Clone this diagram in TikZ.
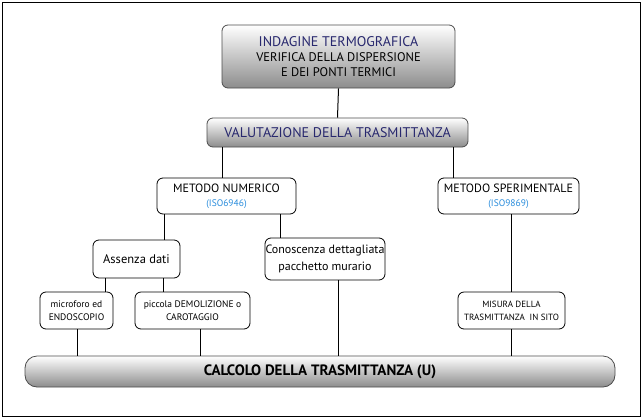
\documentclass[tikz,border=0pt]{standalone}
\usepackage{fontspec}
\setmainfont{PT Sans}
\begin{document}
\begin{tikzpicture}[x=1pt,y=-1pt,
  gbox/.style={draw=black!70,line width=0.8pt,rounded corners=6pt,top color=white,bottom color=black!45,align=center,inner sep=0pt},
  wbox/.style={draw=black,line width=0.8pt,rounded corners=6pt,fill=white,align=center,inner sep=0pt},
  conn/.style={line width=1pt}]
\definecolor{navy}{RGB}{40,40,110}
\definecolor{iso}{RGB}{40,140,220}
\useasboundingbox (0,0) rectangle (642,418);
\draw[line width=0.8pt] (2,2) rectangle (640,416);
\node[gbox,minimum width=233pt,minimum height=63pt,font=\fontsize{12.5}{15}\selectfont] (top) at (338.5,56.5) {{\fontsize{14}{15}\selectfont\color{navy}INDAGINE TERMOGRAFICA}\\VERIFICA DELLA DISPERSIONE\\E DEI PONTI TERMICI};
\node[gbox,minimum width=261pt,minimum height=29pt,font=\fontsize{14}{16}\selectfont,text=navy] (val) at (337.5,132.5) {VALUTAZIONE DELLA TRASMITTANZA};
\node[wbox,minimum width=139pt,minimum height=36pt,font=\fontsize{12}{14}\selectfont] (mn) at (226.5,196) {METODO NUMERICO\\{\fontsize{9.5}{12}\selectfont\color{iso}(ISO6946)}};
\node[wbox,minimum width=141pt,minimum height=36pt,font=\fontsize{12}{14}\selectfont] (ms) at (508.5,196) {METODO SPERIMENTALE\\{\fontsize{9.5}{12}\selectfont\color{iso}(ISO9869)}};
\node[wbox,minimum width=87pt,minimum height=38pt,font=\fontsize{12.5}{15}\selectfont] (ad) at (136.5,259) {Assenza dati};
\node[wbox,minimum width=120pt,minimum height=42pt,font=\fontsize{12}{17}\selectfont] (cd) at (325,259) {Conoscenza dettagliata\\pacchetto murario};
\node[wbox,minimum width=73pt,minimum height=37pt,font=\fontsize{9.5}{13}\selectfont] (mf) at (76.5,310.5) {microforo ed\\ENDOSCOPIO};
\node[wbox,minimum width=115pt,minimum height=37pt,font=\fontsize{9.5}{13}\selectfont] (pd) at (192.5,310.5) {piccola DEMOLIZIONE o\\CAROTAGGIO};
\node[wbox,minimum width=107pt,minimum height=37pt,font=\fontsize{9}{13}\selectfont] (mi) at (511.5,310.5) {MISURA DELLA\\TRASMITTANZA\ \ IN SITO};
\node[gbox,rounded corners=12pt,minimum width=590pt,minimum height=31pt,font=\fontsize{15}{17}\selectfont\bfseries] (calc) at (320,371.5) {CALCOLO DELLA TRASMITTANZA (U)};
\draw[conn] (top.south) -- (val.north);
\draw[conn] (val.south -| 222,0) -- (mn.north -| 222,0);
\draw[conn] (val.south -| 453,0) -- (ms.north -| 453,0);
\draw[conn] (mn.south -| 164,0) -- (ad.north -| 164,0);
\draw[conn] (mn.south -| 280,0) -- (cd.north -| 280,0);
\draw[conn] (ms.south -| 511,0) -- (mi.north -| 511,0);
\draw[conn] (ad.south -| 105,0) -- (mf.north -| 105,0);
\draw[conn] (ad.south -| 163,0) -- (pd.north -| 163,0);
\draw[conn] (mf.south -| 77,0) -- (calc.north -| 77,0);
\draw[conn] (pd.south -| 200,0) -- (calc.north -| 200,0);
\draw[conn] (cd.south -| 338,0) -- (calc.north -| 338,0);
\draw[conn] (mi.south -| 511,0) -- (calc.north -| 511,0);
\end{tikzpicture}
\end{document}
